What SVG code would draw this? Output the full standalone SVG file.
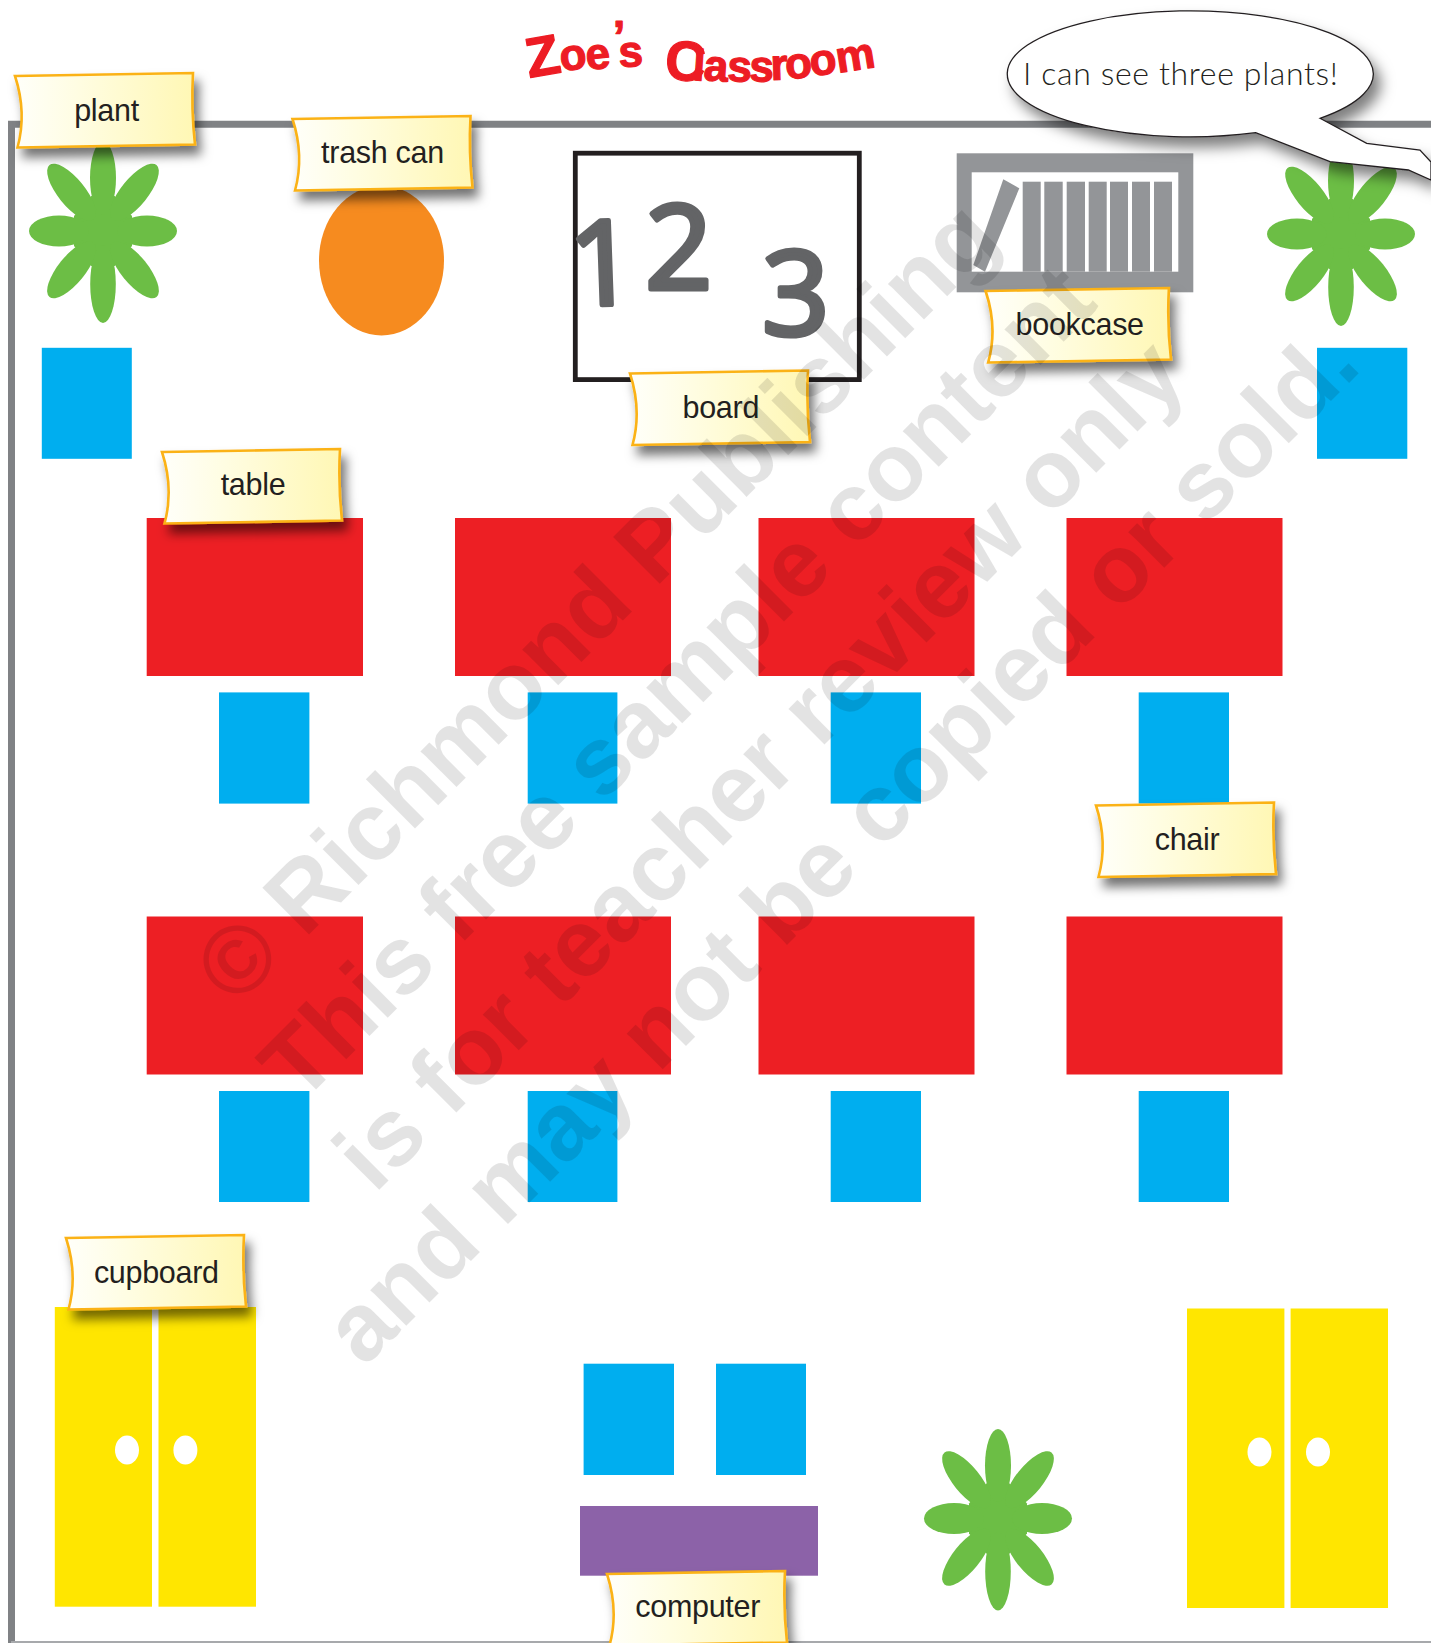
<svg xmlns="http://www.w3.org/2000/svg" xmlns:xlink="http://www.w3.org/1999/xlink" width="1431" height="1643" viewBox="0 0 1431 1643">
<style>
.chair{fill:#00aeef}
.table{fill:#ed1f24}
.cup{fill:#ffe600}
.knob{fill:#fff}
.book{fill:#939598}
.lab{font:30.5px "Liberation Sans",Arial,sans-serif;fill:#231f20;text-anchor:middle;letter-spacing:-.3px}
.wm{font:bold 96px "Liberation Sans",Arial,sans-serif;fill:#000;fill-opacity:.11;text-anchor:middle}
</style>
<defs>
<linearGradient id="lg"><stop offset="0" stop-color="#fffffa"/><stop offset=".35" stop-color="#fffde2"/><stop offset="1" stop-color="#fff7b4"/></linearGradient>
<filter id="sh" x="-20%" y="-30%" width="150%" height="170%"><feDropShadow dx="5" dy="9" stdDeviation="5.5" flood-color="#000" flood-opacity=".55"/></filter>
<filter id="shb" x="-10%" y="-20%" width="125%" height="150%"><feDropShadow dx="7" dy="10" stdDeviation="7" flood-color="#000" flood-opacity=".5"/></filter>
<path id="lbl" d="M0 3 L178 0 Q176 36 180 71.5 L2.5 74.5 Q12 40 0 3Z" fill="url(#lg)" stroke="#fbb216" stroke-width="2.6" filter="url(#sh)"/>
<g id="flower" fill="#6cbe45">
<polygon points="-11.7,-35 11.7,-35 29,-15 29,15 11.7,35 -11.7,35 -29,15 -29,-15"/>
<ellipse cx="0" cy="-53" rx="13" ry="36.5"/>
<ellipse cx="0" cy="53" rx="12.8" ry="39"/>
<ellipse cx="-44" cy="0" rx="30" ry="15.4"/>
<ellipse cx="44" cy="0" rx="30" ry="15.4"/>
<ellipse cx="50" cy="0" rx="35" ry="13.5" transform="rotate(-51)"/>
<ellipse cx="50" cy="0" rx="35" ry="13.5" transform="rotate(-129)"/>
<ellipse cx="50" cy="0" rx="35" ry="13.5" transform="rotate(51)"/>
<ellipse cx="50" cy="0" rx="35" ry="13.5" transform="rotate(129)"/>
</g>
</defs>
<rect width="1431" height="1643" fill="#fff"/>
<g id="room-frame">
<path d="M11.5 1643V124.300H1431" fill="none" stroke="#808285" stroke-width="7"/>
<rect x="11" y="1641" width="1420" height="2" fill="#a7a9ac"/>
</g>
<g id="title"><text font-family="'Liberation Sans',Arial,sans-serif" font-weight="700" font-size="44" fill="#ed1c24" stroke="#ed1c24" stroke-width="1.2" stroke-linejoin="round" x="529 561 587 613 619 634 664 692 703 727 749 771 786 811 838" y="78 71 70 52 67 75 79 80 80 81 81 80 79 76 73" rotate="-10 -6 -6 0 -2 6 4 4 4 2 2 -2 -4 -6 -9"><tspan font-size="56">Z</tspan>oe’s <tspan font-size="56">C</tspan>lassroom</text></g>
<g id="plant-1"><use href="#flower" transform="translate(103 231)"/></g>
<g id="trash-can"><ellipse cx="381.500" cy="260.500" rx="62.500" ry="75" fill="#f68b1f"/></g>
<g id="board">
<rect x="575.300" y="153.200" width="284" height="226.400" fill="#fff" stroke="#231f20" stroke-width="4.800"/>
<text font-family="'Open Sans',sans-serif" font-size="118" fill="#636466" stroke="#636466" stroke-width="5" stroke-linejoin="round" x="570 645 762" y="306 289 335" rotate="-2 0 0">123</text>
</g>
<g id="bookcase">
<rect x="956.700" y="153.300" width="236.600" height="139" class="book"/>
<rect x="971.700" y="172.300" width="206.600" height="99.400" fill="#fff"/>
<polygon class="book" points="1003.300,179.300 1019.300,188.300 985,271.700 973.300,265"/>
<rect class="book" x="1022.700" y="181.700" width="18" height="90"/>
<rect class="book" x="1044.300" y="181.700" width="18.400" height="90"/>
<rect class="book" x="1066.700" y="181.700" width="18.300" height="90"/>
<rect class="book" x="1088.700" y="181.700" width="18" height="90"/>
<rect class="book" x="1110" y="181.700" width="18" height="90"/>
<rect class="book" x="1132" y="181.700" width="18" height="90"/>
<rect class="book" x="1154" y="181.700" width="18" height="90"/>
</g>
<g id="plant-2"><use href="#flower" transform="translate(1341 234)"/></g>
<g id="chair-1"><rect class="chair" x="41.800" y="347.800" width="90" height="111"/></g>
<g id="chair-2"><rect class="chair" x="1317" y="347.800" width="90.300" height="111"/></g>
<g id="table-1"><rect class="table" x="146.700" y="518" width="216.300" height="158"/></g>
<g id="table-2"><rect class="table" x="455" y="518" width="216" height="158"/></g>
<g id="table-3"><rect class="table" x="758.500" y="518" width="216" height="158"/></g>
<g id="table-4"><rect class="table" x="1066.500" y="518" width="216" height="158"/></g>
<g id="chair-3"><rect class="chair" x="219" y="692.400" width="90.400" height="111.200"/></g>
<g id="chair-4"><rect class="chair" x="527.700" y="692.400" width="89.700" height="111.200"/></g>
<g id="chair-5"><rect class="chair" x="830.700" y="692.400" width="90.300" height="111.200"/></g>
<g id="chair-6"><rect class="chair" x="1138.700" y="692.400" width="90.300" height="111.200"/></g>
<g id="table-5"><rect class="table" x="146.700" y="916.500" width="216.300" height="158"/></g>
<g id="table-6"><rect class="table" x="455" y="916.500" width="216" height="158"/></g>
<g id="table-7"><rect class="table" x="758.500" y="916.500" width="216" height="158"/></g>
<g id="table-8"><rect class="table" x="1066.500" y="916.500" width="216" height="158"/></g>
<g id="chair-7"><rect class="chair" x="219" y="1091" width="90.400" height="111"/></g>
<g id="chair-8"><rect class="chair" x="527.700" y="1091" width="89.700" height="111"/></g>
<g id="chair-9"><rect class="chair" x="830.700" y="1091" width="90.300" height="111"/></g>
<g id="chair-10"><rect class="chair" x="1138.700" y="1091" width="90.300" height="111"/></g>
<g id="cupboard-1">
<rect class="cup" x="54.800" y="1307" width="97.200" height="299.700"/><rect class="cup" x="158.500" y="1307" width="97.500" height="299.700"/>
<ellipse class="knob" cx="127" cy="1450" rx="12" ry="14.500"/><ellipse class="knob" cx="185.400" cy="1450" rx="12" ry="14.500"/>
</g>
<g id="cupboard-2">
<rect class="cup" x="1187" y="1308.500" width="97.400" height="299.500"/><rect class="cup" x="1290.600" y="1308.500" width="97.400" height="299.500"/>
<ellipse class="knob" cx="1259.500" cy="1452" rx="12" ry="14.500"/><ellipse class="knob" cx="1318" cy="1452" rx="12" ry="14.500"/>
</g>
<g id="chair-11"><rect class="chair" x="583.600" y="1363.700" width="90.400" height="111.300"/></g>
<g id="chair-12"><rect class="chair" x="716" y="1363.700" width="90" height="111.300"/></g>
<g id="computer"><rect x="580" y="1506" width="238" height="69.700" fill="#8c62a8"/></g>
<g id="plant-3"><use href="#flower" transform="translate(998 1518.500)"/></g>
<g id="speech-bubble">
<path d="M1320 118.300L1366.700 143.300L1420 150L1431 162V180L1408.300 170L1330 161.700L1255.700 132.700A183 63 0 1 1 1320 118.300Z" fill="#fff" stroke="#231f20" stroke-width="1.300" filter="url(#shb)"/>
<text x="1023" y="85" font-family="Lato,'Liberation Sans',sans-serif" font-weight="300" font-size="32" fill="#231f20" textLength="315" lengthAdjust="spacing">I can see three plants!</text>
</g>
<g id="label-plant"><use href="#lbl" x="15" y="73"/><text class="lab" x="106.500" y="120.500">plant</text></g>
<g id="label-trash-can"><use href="#lbl" x="292.500" y="116"/><text class="lab" x="382.500" y="162.500">trash can</text></g>
<g id="label-table"><use href="#lbl" x="162" y="449"/><text class="lab" x="253" y="495">table</text></g>
<g id="label-board"><use href="#lbl" x="630" y="370.500"/><text class="lab" x="720.800" y="417.700">board</text></g>
<g id="label-bookcase"><use href="#lbl" transform="translate(985.600 288) scale(1.03 1)"/><text class="lab" x="1079.700" y="334.700">bookcase</text></g>
<g id="label-chair"><use href="#lbl" x="1096" y="802.500"/><text class="lab" x="1187" y="850">chair</text></g>
<g id="label-cupboard"><use href="#lbl" x="66" y="1235"/><text class="lab" x="156.300" y="1282.700">cupboard</text></g>
<g id="label-computer"><use href="#lbl" x="607" y="1571"/><text class="lab" x="697.700" y="1617">computer</text></g>
<g id="watermark">
<text class="wm" transform="translate(619 624.500) rotate(-45)">© Richmond Publishing</text>
<text class="wm" transform="translate(700 705.500) rotate(-45)">This free sample content</text>
<text class="wm" transform="translate(782 787) rotate(-45)">is for teacher review only</text>
<text class="wm" transform="translate(863.500 868.500) rotate(-45)">and may not be copied or sold.</text>
</g>
</svg>
